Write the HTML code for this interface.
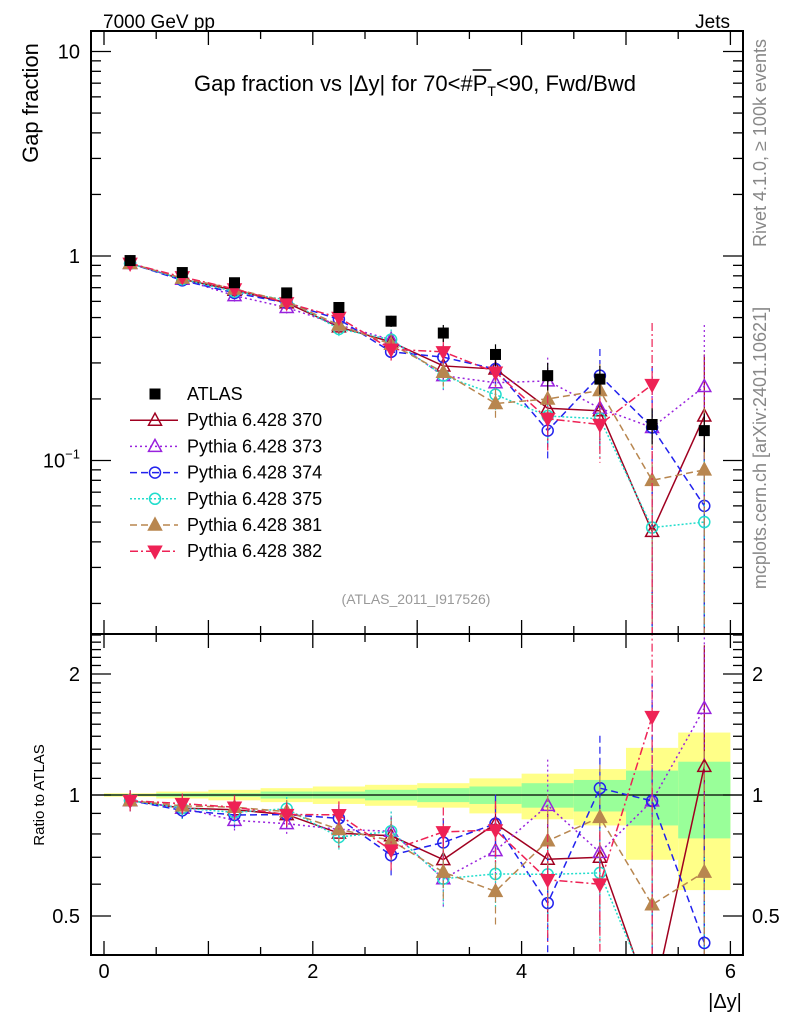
<!DOCTYPE html>
<html><head><meta charset="utf-8"><style>
html,body{margin:0;padding:0;background:#fff;overflow:hidden;width:786px;height:1024px;}
svg{display:block;font-family:"Liberation Sans",sans-serif;}
</style></head><body>
<svg id="chart" width="786" height="1024" viewBox="0 0 786 1024" xmlns="http://www.w3.org/2000/svg">
<text x="103" y="28" font-size="19">7000 GeV pp</text>
<text x="730" y="28" font-size="19" text-anchor="end">Jets</text>
<g>
<text id="title" x="415" y="91" font-size="22" text-anchor="middle">Gap fraction vs |Δy| for 70&lt;#<tspan id="tp">P</tspan><tspan font-size="14" dy="5">T</tspan><tspan dy="-5">&lt;90, Fwd/Bwd</tspan></text>
<line id="ovl" x1="438" y1="70" x2="455" y2="70" stroke="#000" stroke-width="1.5"/>
</g>
<text transform="translate(38,103) rotate(-90)" font-size="22" text-anchor="middle">Gap fraction</text>
<text transform="translate(44,795) rotate(-90)" font-size="15" text-anchor="middle">Ratio to ATLAS</text>
<text transform="translate(766,143) rotate(-90)" font-size="18" fill="#888" text-anchor="middle">Rivet 4.1.0, ≥ 100k events</text>
<text transform="translate(766,448) rotate(-90)" font-size="18" fill="#888" text-anchor="middle">mcplots.cern.ch [arXiv:2401.10621]</text>
<text x="416" y="604" font-size="14" fill="#999" text-anchor="middle">(ATLAS_2011_I917526)</text>
<text x="725" y="1008" font-size="20" text-anchor="middle">|Δy|</text>
<g id="g"></g>
</svg>
<script>
const xCenters=[0.25,0.75,1.25,1.75,2.25,2.75,3.25,3.75,4.25,4.75,5.25,5.75];
const atlas=[0.95,0.83,0.74,0.66,0.56,0.48,0.42,0.33,0.26,0.25,0.15,0.14];
const atlasErr=[0.03,0.03,0.03,0.03,0.03,0.03,0.04,0.04,0.04,0.04,0.03,0.03];
const mc370=[0.92,0.77,0.68,0.59,0.45,0.38,0.29,0.28,0.18,0.175,0.045,0.165];
const mc373=[0.92,0.77,0.64,0.56,0.46,0.39,0.26,0.24,0.245,0.18,0.145,0.23];
const mc374=[0.92,0.76,0.66,0.59,0.49,0.34,0.32,0.28,0.14,0.26,0.145,0.06];
const mc375=[0.92,0.77,0.67,0.61,0.44,0.39,0.26,0.21,0.165,0.16,0.047,0.05];
const mc381=[0.92,0.78,0.69,0.60,0.46,0.37,0.27,0.19,0.20,0.22,0.08,0.09];
const mc382=[0.92,0.79,0.69,0.59,0.50,0.35,0.34,0.27,0.16,0.15,0.235,null];
const mcRelErr=[0.06,0.06,0.07,0.07,0.08,0.12,0.15,0.18,0.3,0.35,1,1];
const bandTotUp=[1.01,1.02,1.03,1.04,1.05,1.06,1.07,1.10,1.13,1.16,1.31,1.43];
const bandTotDn=[0.99,0.98,0.97,0.96,0.95,0.94,0.93,0.90,0.87,0.84,0.69,0.58];
const bandStatUp=[1.005,1.01,1.01,1.02,1.02,1.03,1.04,1.05,1.07,1.09,1.15,1.21];
const bandStatDn=[0.995,0.99,0.99,0.98,0.98,0.97,0.96,0.95,0.93,0.91,0.84,0.78];
const xTickLabels=["0","2","4","6"];
const names=["Pythia 6.428 370","Pythia 6.428 373","Pythia 6.428 374","Pythia 6.428 375","Pythia 6.428 381","Pythia 6.428 382"];

const NS="http://www.w3.org/2000/svg";
try{const t=document.getElementById('title');const n=t.textContent.indexOf('P');const b=t.getExtentOfChar(n);
 const o=document.getElementById('ovl');o.setAttribute('x1',b.x);o.setAttribute('x2',b.x+b.width+4);}catch(e){}
const g=document.getElementById('g');
const L=91,R=743,T=31,MB=634,RB=955;
const X=v=>104+v*104.4;
const Y=v=>256-204.5*Math.log10(v);
const YR=v=>795-402*Math.log10(v);
function el(tag,attrs,parent){const e=document.createElementNS(NS,tag);for(const k in attrs)e.setAttribute(k,attrs[k]);(parent||g).appendChild(e);return e;}
const series=[
 {d:mc370,c:"#a00020",dash:"",m:"tri",fill:false},
 {d:mc373,c:"#9922dd",dash:"2,3",m:"tri",fill:false},
 {d:mc374,c:"#2222ee",dash:"7,4",m:"circ",fill:false},
 {d:mc375,c:"#22ddcc",dash:"2,2",m:"circ",fill:false},
 {d:mc381,c:"#b8864f",dash:"7,4",m:"tri",fill:true},
 {d:mc382,c:"#ee2255",dash:"8,3,2,3",m:"dtri",fill:true}];
function marker(m,x,y,c,fill,parent){
  if(m=="circ")return el('circle',{cx:x,cy:y,r:5.5,fill:'none',stroke:c,'stroke-width':1.5},parent);
  if(m=="tri")return el('polygon',{points:`${x},${y-7} ${x-6.5},${y+5} ${x+6.5},${y+5}`,fill:fill?c:'none',stroke:c,'stroke-width':1.5},parent);
  if(m=="dtri")return el('polygon',{points:`${x},${y+7} ${x-6.5},${y-5} ${x+6.5},${y-5}`,fill:c,stroke:c,'stroke-width':1.5},parent);
  if(m=="sq")return el('rect',{x:x-5.5,y:y-5.5,width:11,height:11,fill:c},parent);
}
const defs=el('defs',{});
const c1=el('clipPath',{id:'cm'},defs);el('rect',{x:L,y:T,width:R-L,height:MB-T},c1);
const c2=el('clipPath',{id:'cr'},defs);el('rect',{x:L,y:MB,width:R-L,height:RB-MB},c2);
const gm=el('g',{'clip-path':'url(#cm)'});


const gr=el('g',{'clip-path':'url(#cr)'});


xCenters.forEach((x,i)=>{
  const a=X(x-0.25),b=X(x+0.25);
  const r1=el('rect',{x:a,y:YR(bandTotUp[i]),width:b-a,height:YR(bandTotDn[i])-YR(bandTotUp[i]),fill:'#ffff88'},gr);
  
  
  const r2=el('rect',{x:a,y:YR(bandStatUp[i]),width:b-a,height:YR(bandStatDn[i])-YR(bandStatUp[i]),fill:'#99ff99'},gr);
  
  
});
el('line',{x1:L,x2:R,y1:YR(1),y2:YR(1),stroke:'#000','stroke-width':1.2},gr);
series.forEach((s,si)=>{
  [[gm,Y],[gr,YR]].forEach(([grp,yf],pi)=>{
    const vals=s.d.map((v,i)=>v==null?null:(pi==0?v:v/atlas[i]));
    let pts=[];vals.forEach((v,i)=>{if(v!=null)pts.push(X(xCenters[i])+','+yf(Math.max(v,1e-3)));});
    const pl=el('polyline',{points:pts.join(' '),fill:'none',stroke:s.c,'stroke-width':1.5,'stroke-dasharray':s.dash},grp);
    
    
    vals.forEach((v,i)=>{if(v==null)return;
      const x=X(xCenters[i]),e=mcRelErr[i]*v;
      const lo=Math.max(v-e,1e-4);
      el('line',{x1:x,x2:x,y1:yf(v+e),y2:yf(lo),stroke:s.c,'stroke-width':1.2,'stroke-dasharray':s.dash},grp);
      const mk=marker(s.m,x,yf(v),s.c,s.fill,grp);
      
      
    });
  });
});
atlas.forEach((v,i)=>{const x=X(xCenters[i]);
  el('line',{x1:x,x2:x,y1:Y(v+atlasErr[i]),y2:Y(v-atlasErr[i]),stroke:'#000','stroke-width':1.2},gm);
  const mk=marker('sq',x,Y(v),'#000',true,gm);
  
  
});
el('rect',{x:L,y:T,width:R-L,height:MB-T,fill:'none',stroke:'#000','stroke-width':2});
el('rect',{x:L,y:MB,width:R-L,height:RB-MB,fill:'none',stroke:'#000','stroke-width':2});
for(let k=0;k<=12;k++){const v=k*0.5,x=X(v),len=(k%2==0)?14:8;
  [[MB,-1],[T,1],[RB,-1],[MB,1]].forEach(([y0,dir])=>el('line',{x1:x,x2:x,y1:y0,y2:y0+dir*len,stroke:'#000','stroke-width':1.3}));
}
xTickLabels.forEach((t)=>{const tx=el('text',{x:X(+t),y:978,'font-size':20,'text-anchor':'middle'});tx.textContent=t;
  
  });
for(let d=-2;d<=1;d++){for(let m=1;m<=9;m++){const v=m*Math.pow(10,d);const y=Y(v);if(y<T||y>MB)continue;const len=m==1?20:10;
  el('line',{x1:L,x2:L+len,y1:y,y2:y,stroke:'#000','stroke-width':1.3});el('line',{x1:R,x2:R-len,y1:y,y2:y,stroke:'#000','stroke-width':1.3});}}
[["10",10],["1",1]].forEach(([t,v])=>{const tx=el('text',{x:80,y:Y(v)+7,'font-size':20,'text-anchor':'end'});tx.textContent=t;
  
  });
{const tx=el('text',{x:80,y:Y(0.1)+7,'font-size':20,'text-anchor':'end'});tx.innerHTML='10<tspan font-size="13" dy="-9">−1</tspan>';
 
 }
for(let k=4;k<=25;k++){const v=k/10;const y=YR(v);if(y<MB||y>RB)continue;const major=(k==5||k==10||k==20);const len=major?20:10;
  el('line',{x1:L,x2:L+len,y1:y,y2:y,stroke:'#000','stroke-width':1.3});el('line',{x1:R,x2:R-len,y1:y,y2:y,stroke:'#000','stroke-width':1.3});}
[["2",2],["1",1],["0.5",0.5]].forEach(([t,v])=>{
  const a=el('text',{x:80,y:YR(v)+7,'font-size':20,'text-anchor':'end'});a.textContent=t;
  
  
  const b=el('text',{x:752,y:YR(v)+7,'font-size':20}); b.textContent=t;
  
  });
const lg=el('g',{});


const ly0=394,dy=26.2;
{marker('sq',155,ly0,'#000',true,lg);const t=el('text',{x:187,y:ly0+6,'font-size':18},lg);t.textContent="ATLAS";
 
 }
series.forEach((s,i)=>{const y=ly0+dy*(i+1);
  el('line',{x1:130,x2:178,y1:y,y2:y,stroke:s.c,'stroke-width':1.5,'stroke-dasharray':s.dash},lg);
  marker(s.m,155,y,s.c,s.fill,lg);
  const t=el('text',{x:187,y:y+6,'font-size':18},lg);t.textContent=names[i];
  
  });
</script>
</body></html>
